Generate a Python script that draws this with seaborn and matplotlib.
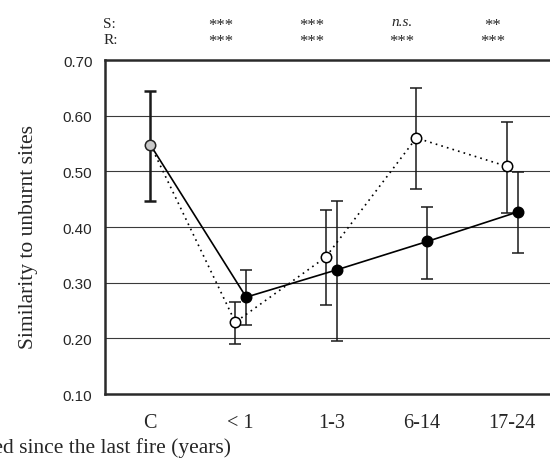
import numpy as np
import pandas as pd
import matplotlib
matplotlib.use("Agg")
import matplotlib.pyplot as plt
import seaborn as sns

periods = ['C', '< 1', '1-3', '6-14', '17-24']

# open symbols, dotted line
s_mean = [0.548, 0.229, 0.346, 0.560, 0.509]
s_low = [0.447, 0.189, 0.259, 0.468, 0.426]
s_high = [0.645, 0.266, 0.431, 0.649, 0.589]

# filled symbols, solid line
r_mean = [0.548, 0.274, 0.323, 0.374, 0.427]
r_low = [0.447, 0.224, 0.196, 0.307, 0.353]
r_high = [0.645, 0.323, 0.447, 0.436, 0.498]

s_signif = ['***', '***', 'n.s.', '**']
r_signif = ['***', '***', '***', '***']

sns.set_style("white")
serif = ['Liberation Serif', 'DejaVu Serif']
sans = ['Liberation Sans', 'DejaVu Sans']

rows = []
for i, p in enumerate(periods):
    rows.append({'period': p, 'group': 'S', 'mean': s_mean[i], 'low': s_low[i], 'high': s_high[i]})
    rows.append({'period': p, 'group': 'R', 'mean': r_mean[i], 'low': r_low[i], 'high': r_high[i]})
df = pd.DataFrame(rows)
df['idx'] = df['period'].map({p: i for i, p in enumerate(periods)})
shift = {'S': -0.06, 'R': 0.06}
df['x'] = df['idx'] + np.where(df['idx'] == 0, 0, df['group'].map(shift))

fig = plt.figure(figsize=(5.5, 4.64), dpi=100)
ax = fig.add_axes([0.1909, 0.1487, 0.8227, 0.7198])

for g in ['S', 'R']:
    d = df[(df['group'] == g) & (df['idx'] > 0)]
    ax.errorbar(d['x'], d['mean'], yerr=[d['mean'] - d['low'], d['high'] - d['mean']],
                fmt='none', ecolor='#1a1a1a', elinewidth=1.1, capsize=4.3, capthick=1.1, zorder=2)
c = df[(df['idx'] == 0) & (df['group'] == 'S')]
ax.errorbar(c['x'], c['mean'], yerr=[c['mean'] - c['low'], c['high'] - c['mean']],
            fmt='none', ecolor='#1a1a1a', elinewidth=1.8, capsize=4.5, capthick=1.8, zorder=2)

sns.lineplot(data=df, x='x', y='mean', hue='group', style='group',
             hue_order=['S', 'R'], palette={'S': 'black', 'R': 'black'},
             dashes={'S': (1, 2.5), 'R': ''}, linewidth=1.2, legend=False, ax=ax, zorder=3)

for g, fc in [('S', 'white'), ('R', 'black')]:
    d = df[(df['group'] == g) & (df['idx'] > 0)]
    ax.plot(d['x'], d['mean'], 'o', ms=7.5, mfc=fc, mec='black', mew=1.1, zorder=4)
ax.plot(c['x'], c['mean'], 'o', ms=7.5, mfc='#c8c8c8', mec='#222222', mew=1.1, zorder=4)

ax.set_xlim(-0.5, 4.5)
ax.set_ylim(0.10, 0.70)
yt = np.arange(0.10, 0.71, 0.10)
ax.set_yticks(yt)
ax.set_yticklabels([f'{v:.2f}' for v in yt], fontfamily=sans, fontsize=11)
ax.set_xticks(range(len(periods)))
ax.set_xticklabels(periods, fontfamily=serif, fontsize=14.5)
ax.set_xticks(np.arange(-0.5, 4.0, 1.0), minor=True)
ax.tick_params(axis='x', which='major', length=0, pad=14)
ax.tick_params(axis='x', which='minor', length=4, direction='out', width=1, color='#333333')
ax.tick_params(axis='y', length=4, direction='out', width=1, color='#333333', pad=5)

for v in [0.2, 0.3, 0.4, 0.5, 0.6]:
    ax.axhline(v, color='#3a3a3a', lw=0.8, zorder=1)
for side in ['top', 'bottom', 'left', 'right']:
    ax.spines[side].set_color('#2a2a2a')
    ax.spines[side].set_linewidth(1.8)

ax.set_xlabel('')
ax.set_ylabel('')
fig.text(29 / 550, 1 - 237 / 464, 'Similarity to unburnt sites', rotation=90,
         fontfamily=serif, fontsize=15.5, ha='center', va='center')

trans = ax.get_xaxis_transform()
ax.text(-0.52, 1.11, 'S:', transform=trans, fontfamily=serif, fontsize=11, va='center', ha='left')
ax.text(-0.52, 1.062, 'R:', transform=trans, fontfamily=serif, fontsize=11, va='center', ha='left')
for i, (s, r) in enumerate(zip(s_signif, r_signif)):
    xp = i + 1 - 0.22
    if s == 'n.s.':
        ax.text(xp, 1.115, s, transform=trans, fontfamily=serif, fontsize=11,
                style='italic', va='center', ha='center')
    else:
        ax.text(xp, 1.105, s, transform=trans, fontfamily=serif, fontsize=12,
                va='center', ha='center')
    ax.text(xp, 1.057, r, transform=trans, fontfamily=serif, fontsize=12, va='center', ha='center')

fig.text(231 / 550, 1 - 453 / 464, 'Time elapsed since the last fire (years)',
         fontfamily=serif, fontsize=15.5, ha='right', va='baseline')

fig.savefig('out.png', dpi=100)
